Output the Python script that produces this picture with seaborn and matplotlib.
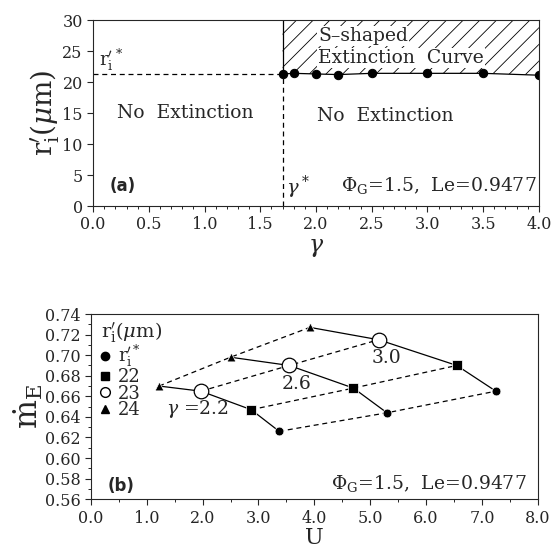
import numpy as np
import pandas as pd
import matplotlib.pyplot as plt
import seaborn as sns
from matplotlib.lines import Line2D

# panel (a): extinction radius vs gamma
gamma_star = 1.7
r_star = 21.3
gamma_pts = [1.7, 1.8, 2.0, 2.2, 2.5, 3.0, 3.5, 4.0]
r_pts = [21.3, 21.4, 21.3, 21.2, 21.4, 21.4, 21.4, 21.1]

# panel (b): mass burning rate vs U
gammas = [2.2, 2.6, 3.0]
r_labels = ['r*', '22', '23', '24']
U_vals = {
    2.2: [3.37, 2.87, 1.97, 1.22],
    2.6: [5.30, 4.70, 3.55, 2.50],
    3.0: [7.25, 6.55, 5.15, 3.92],
}
m_vals = {
    2.2: [0.626, 0.647, 0.665, 0.670],
    2.6: [0.644, 0.668, 0.690, 0.698],
    3.0: [0.665, 0.690, 0.715, 0.727],
}

rows = []
for g in gammas:
    for r, u, m in zip(r_labels, U_vals[g], m_vals[g]):
        rows.append({'gamma': g, 'r': r, 'U': u, 'm': m})
df = pd.DataFrame(rows)

sns.set_style("ticks")
plt.rcParams['font.family'] = ['DejaVu Serif']
plt.rcParams['mathtext.fontset'] = 'dejavuserif'
plt.rcParams['hatch.linewidth'] = 0.6
plt.rcParams['xtick.direction'] = 'out'
plt.rcParams['ytick.direction'] = 'out'

fig = plt.figure(figsize=(5.51, 5.48), dpi=100)
ax1 = fig.add_axes([0.169, 0.624, 0.809, 0.3395])
ax2 = fig.add_axes([0.165, 0.089, 0.811, 0.338])

white = dict(facecolor='white', edgecolor='none', pad=0.5)

# ---- panel (a)
ax1.fill_between(gamma_pts, r_pts, 30, facecolor='none', edgecolor='black',
                 hatch='//', linewidth=0)
ax1.plot([gamma_star, gamma_star], [r_star, 30], color='black', lw=0.9)
ax1.plot([0, gamma_star], [r_star, r_star], color='black', lw=0.9, ls=(0, (4, 3)))
ax1.plot([gamma_star, gamma_star], [0, r_star], color='black', lw=0.9, ls=(0, (4, 3)))
sns.lineplot(x=gamma_pts, y=r_pts, ax=ax1, color='black', lw=0.9,
             marker='o', markersize=6, markeredgecolor='black', sort=False)

ax1.set_xlim(0, 4)
ax1.set_ylim(0, 30)
ax1.set_xticks(np.arange(0, 4.01, 0.5))
ax1.set_xticks(np.arange(0, 4.01, 0.1), minor=True)
ax1.set_yticks(np.arange(0, 31, 5))
ax1.set_xticklabels([f'{v:.1f}' for v in np.arange(0, 4.01, 0.5)])
ax1.set_xlabel(r'$\gamma$', fontsize=17, labelpad=2)
ax1.set_ylabel(r'$\mathrm{r}_\mathrm{i}^{\prime}(\mu\mathrm{m})$', fontsize=20, labelpad=0)

ax1.text(0.05, 22.6, r'$\mathrm{r}_\mathrm{i}^{\prime\,*}$', fontsize=13)
ax1.text(0.83, 15, 'No  Extinction', fontsize=13.5, ha='center', va='center')
ax1.text(2.62, 14.5, 'No  Extinction', fontsize=13.5, ha='center', va='center')
ax1.text(2.02, 27.4, 'S\u2013shaped', fontsize=13.5, va='center', bbox=white)
ax1.text(2.02, 23.9, 'Extinction  Curve', fontsize=13.5, va='center', bbox=white)
ax1.text(0.15, 3.3, '(a)', fontsize=12, fontweight='bold', family='DejaVu Sans', va='center')
ax1.text(1.73, 3.0, r'$\gamma^*$', fontsize=14, va='center')
ax1.text(3.98, 3.3, r'$\Phi_\mathrm{G}$=1.5,  Le=0.9477', fontsize=13.5,
         ha='right', va='center')

# ---- panel (b)
sns.lineplot(data=df, x='U', y='m', units='gamma', estimator=None, sort=False,
             color='black', lw=0.9, ax=ax2)
sns.lineplot(data=df, x='U', y='m', units='r', estimator=None, sort=False,
             color='black', lw=0.9, ls=(0, (4, 3)), ax=ax2)

styles = {
    'r*': dict(marker='o', s=40, color='black'),
    '22': dict(marker='s', s=45, color='black'),
    '23': dict(marker='o', s=110, facecolor='white', edgecolor='black', linewidth=0.9),
    '24': dict(marker='^', s=40, color='black'),
}
for r in r_labels:
    sub = df[df['r'] == r]
    sns.scatterplot(data=sub, x='U', y='m', ax=ax2, zorder=5, legend=False, **styles[r])

ax2.set_xlim(0, 8)
ax2.set_ylim(0.56, 0.74)
ax2.set_xticks(np.arange(0, 8.01, 1.0))
ax2.set_xticks(np.arange(0, 8.01, 0.5), minor=True)
ax2.set_xticklabels([f'{v:.1f}' for v in np.arange(0, 8.01, 1.0)])
ax2.set_yticks(np.arange(0.56, 0.741, 0.02))
ax2.set_yticks(np.arange(0.56, 0.741, 0.01), minor=True)
ax2.set_yticklabels([f'{v:.2f}' for v in np.arange(0.56, 0.741, 0.02)])
ax2.set_xlabel('U', fontsize=16, labelpad=0)
ax2.set_ylabel(r'$\dot{\mathrm{m}}_\mathrm{E}$', fontsize=22, labelpad=0)

ax2.text(1.35, 0.648, r'$\gamma$ =2.2', fontsize=13.5, va='center')
ax2.text(3.68, 0.672, '2.6', fontsize=13.5, ha='center', va='center')
ax2.text(5.3, 0.697, '3.0', fontsize=13.5, ha='center', va='center')
ax2.text(0.3, 0.573, '(b)', fontsize=12, fontweight='bold', family='DejaVu Sans', va='center')
ax2.text(7.8, 0.575, r'$\Phi_\mathrm{G}$=1.5,  Le=0.9477', fontsize=13.5,
         ha='right', va='center')

handles = [
    Line2D([], [], marker='o', ls='none', color='black', markersize=6),
    Line2D([], [], marker='s', ls='none', color='black', markersize=6),
    Line2D([], [], marker='o', ls='none', markerfacecolor='white',
           markeredgecolor='black', markersize=7),
    Line2D([], [], marker='^', ls='none', color='black', markersize=6),
]
labels = [r'$\mathrm{r}_\mathrm{i}^{\prime *}$', '22', '23', '24']
leg = ax2.legend(handles, labels, title=r'$\mathrm{r}_\mathrm{i}^{\prime}(\mu\mathrm{m})$',
                 loc='upper left', bbox_to_anchor=(-0.006, 1.035), frameon=False,
                 fontsize=13, title_fontsize=14, handlelength=0.5,
                 handletextpad=0.45, labelspacing=-0.08, borderpad=0.2)
leg._legend_box.align = 'left'

for ax in (ax1, ax2):
    ax.tick_params(labelsize=11.5, length=4, width=0.8)
    ax.tick_params(which='minor', length=2.5, width=0.7)
    for s in ax.spines.values():
        s.set_linewidth(0.8)

fig.savefig('out.png', dpi=100)
